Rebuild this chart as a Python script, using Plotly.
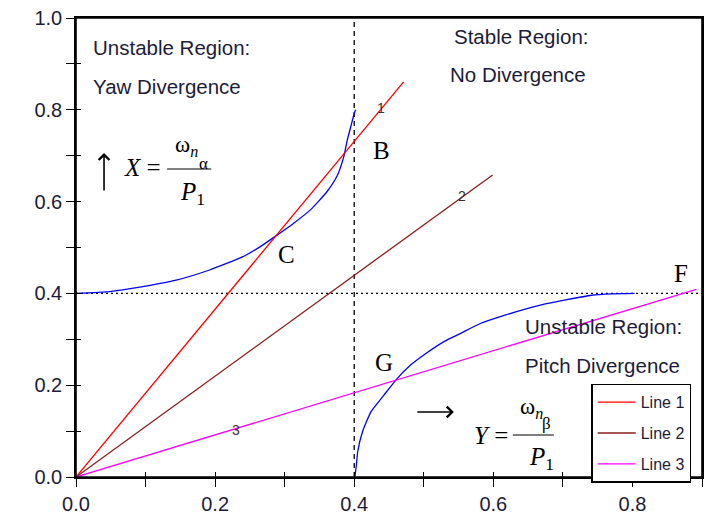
import plotly.graph_objects as go

# ---- data ----
line1_x = [0.0, 0.471]
line1_y = [0.0, 0.861]
line2_x = [0.0, 0.599]
line2_y = [0.0, 0.658]
line3_x = [0.0, 0.892]
line3_y = [0.0, 0.409]

upper_x = [0.0, 0.048, 0.096, 0.144, 0.192, 0.240, 0.265, 0.289, 0.313, 0.337, 0.361, 0.376, 0.385, 0.390, 0.395, 0.400, 0.402]
upper_y = [0.400, 0.404, 0.415, 0.429, 0.451, 0.480, 0.502, 0.527, 0.553, 0.582, 0.622, 0.658, 0.698, 0.734, 0.763, 0.792, 0.800]

lower_x = [0.401, 0.403, 0.405, 0.412, 0.424, 0.443, 0.462, 0.481, 0.500, 0.529, 0.553, 0.582, 0.609, 0.669, 0.741, 0.770, 0.803]
lower_y = [0.000, 0.025, 0.055, 0.099, 0.142, 0.179, 0.215, 0.244, 0.266, 0.295, 0.313, 0.335, 0.349, 0.375, 0.396, 0.399, 0.400]

x_ticks = [0.0, 0.1, 0.2, 0.3, 0.4, 0.5, 0.6, 0.7, 0.8, 0.9]
x_labels = ["0.0", "", "0.2", "", "0.4", "", "0.6", "", "0.8", ""]
y_ticks = [0.0, 0.1, 0.2, 0.3, 0.4, 0.5, 0.6, 0.7, 0.8, 0.9, 1.0]
y_labels = ["0.0", "", "0.2", "", "0.4", "", "0.6", "", "0.8", "", "1.0"]

SANS = "Liberation Sans"
SERIF = "Liberation Serif"
TXT = "#1c1c38"

fig = go.Figure()
fig.add_trace(go.Scatter(x=upper_x, y=upper_y, mode="lines", line=dict(color="#0000ff", width=1.3, shape="spline", smoothing=0.5), showlegend=False))
fig.add_trace(go.Scatter(x=lower_x, y=lower_y, mode="lines", line=dict(color="#0000ff", width=1.3, shape="spline", smoothing=0.5), showlegend=False))
fig.add_trace(go.Scatter(x=line1_x, y=line1_y, mode="lines", name="Line 1", legendgroup="l1", line=dict(color="#ff0000", width=1.3)))
fig.add_trace(go.Scatter(x=line2_x, y=line2_y, mode="lines", name="Line 2", legendgroup="l2", line=dict(color="#8b1c1c", width=1.3)))
fig.add_trace(go.Scatter(x=line3_x, y=line3_y, mode="lines", name="Line 3", legendgroup="l3", line=dict(color="#ff00ff", width=1.3)))
# invisible trace for the overlay (inner tick) axes
fig.add_trace(go.Scatter(x=[0.0], y=[0.0], xaxis="x2", yaxis="y2", mode="markers", marker=dict(opacity=0), showlegend=False, hoverinfo="skip"))

# reference lines
fig.add_shape(type="line", x0=0.4, x1=0.4, y0=0, y1=1, xref="x", yref="y", line=dict(color="black", width=1.3, dash="5px,4px"), layer="below")
fig.add_shape(type="line", x0=0, x1=0.9, y0=0.4, y1=0.4, xref="x", yref="y", line=dict(color="black", width=1.3, dash="2px,3px"), layer="below")
# plot frame
fig.add_shape(type="rect", x0=0, x1=1, y0=0, y1=1, xref="paper", yref="paper", line=dict(color="black", width=1.6), fillcolor="rgba(0,0,0,0)", layer="above")

def ann(x, y, text, size, family=SANS, color=TXT, xanchor="left"):
    fig.add_annotation(x=x, y=y, xref="x", yref="y", text=text, showarrow=False,
                       xanchor=xanchor, yanchor="middle", font=dict(family=family, size=size, color=color))

ann(0.021, 0.935, "Unstable Region:", 20.5)
ann(0.022, 0.850, "Yaw Divergence", 20.5)
ann(0.540, 0.959, "Stable Region:", 20.5)
ann(0.535, 0.876, "No Divergence", 20.5)
ann(0.642, 0.327, "Unstable Region:", 20.5)
ann(0.642, 0.244, "Pitch Divergence", 20.5)

ann(0.439, 0.711, "B", 25, SERIF, "black", "center")
ann(0.3026, 0.4837, "C", 25, SERIF, "black", "center")
ann(0.4428, 0.2495, "G", 25, SERIF, "black", "center")
ann(0.8693, 0.4438, "F", 25, SERIF, "black", "center")

ann(0.438, 0.805, "1", 14, SANS, "#333333", "center")
ann(0.555, 0.612, "2", 14, SANS, "#333333", "center")
ann(0.2305, 0.1024, "3", 14, SANS, "#333333", "center")

def arrow(x0, y0, x1, y1):
    fig.add_annotation(x=x1, y=y1, ax=x0, ay=y0, xref="x", yref="y", axref="x", ayref="y",
                       text="", showarrow=True, arrowhead=4, arrowsize=1.3, arrowwidth=1.6,
                       arrowcolor="black", standoff=0, startstandoff=0)

# formula X
arrow(0.0403, 0.621, 0.0403, 0.706)
ann(0.066, 0.675, "<i>X</i> =", 25, SERIF, "black")
ann(0.1395, 0.722, "ω<sub><i>n</i></sub>", 23, SERIF, "black")
ann(0.1837, 0.684, "α", 17, SERIF, "black", "center")
fig.add_shape(type="line", x0=0.131, x1=0.1945, y0=0.671, y1=0.671, xref="x", yref="y", line=dict(color="black", width=1.2))
ann(0.147, 0.618, "<i>P</i><sub>1</sub>", 25, SERIF, "black")

# formula Y
arrow(0.4885, 0.1416, 0.5432, 0.1416)
ann(0.569, 0.0915, "<i>Y</i> =", 25, SERIF, "black")
ann(0.635, 0.151, "ω<sub><i>n</i></sub>", 23, SERIF, "black")
ann(0.677, 0.1155, "β", 17, SERIF, "black", "center")
fig.add_shape(type="line", x0=0.628, x1=0.687, y0=0.0915, y1=0.0915, xref="x", yref="y", line=dict(color="black", width=1.2))
ann(0.648, 0.041, "<i>P</i><sub>1</sub>", 25, SERIF, "black")

axis_common = dict(showgrid=False, zeroline=False, ticks="outside", ticklen=8, tickwidth=1.3,
                   tickcolor="black", showline=True, linecolor="black", linewidth=1.6, mirror=True,
                   automargin=False, ticklabeloverflow="allow",
                   tickfont=dict(family=SANS, size=20, color=TXT))

# the page body adds an 8px margin, so the figure is offset by 8px
fig.update_layout(
    width=707, height=511,
    margin=dict(l=68, r=13, t=10, b=42, autoexpand=False),
    paper_bgcolor="white", plot_bgcolor="white",
    xaxis=dict(range=[0, 0.9], tickmode="array", tickvals=x_ticks, ticktext=x_labels, **axis_common),
    yaxis=dict(range=[0, 1.0], tickmode="array", tickvals=y_ticks, ticktext=y_labels, **axis_common),
    xaxis2=dict(range=[0, 0.9], overlaying="x", side="bottom", tickmode="array", tickvals=x_ticks,
                showticklabels=False, ticks="inside", ticklen=5, tickwidth=1.3, tickcolor="black",
                showgrid=False, zeroline=False, showline=False, automargin=False),
    yaxis2=dict(range=[0, 1.0], overlaying="y", side="left", tickmode="array", tickvals=y_ticks,
                showticklabels=False, ticks="inside", ticklen=5, tickwidth=1.3, tickcolor="black",
                showgrid=False, zeroline=False, showline=False, automargin=False),
    showlegend=True,
    legend=dict(x=0.823, y=0.203, xanchor="left", yanchor="top", bgcolor="white",
                bordercolor="black", borderwidth=1.5, font=dict(family=SANS, size=16, color=TXT),
                tracegroupgap=7, itemwidth=38),
)

fig.write_html("out.html")
